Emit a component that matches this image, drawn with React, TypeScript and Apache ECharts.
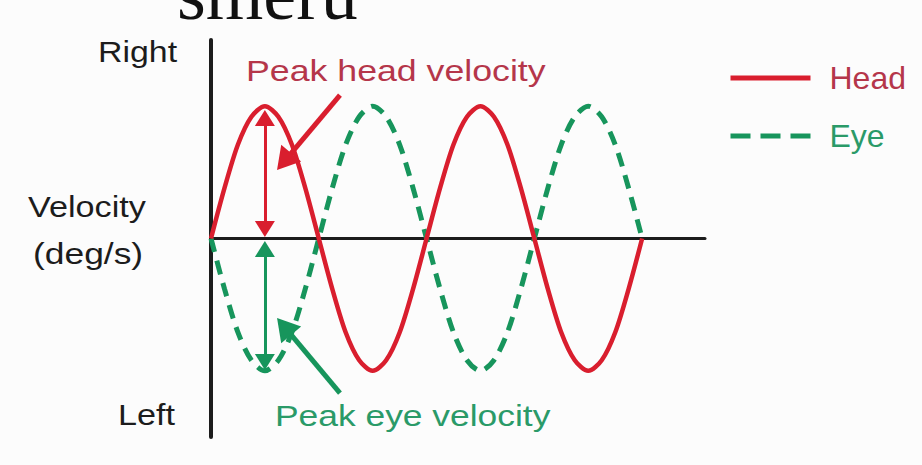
import React, { useEffect, useRef } from "react";
import * as echarts from "echarts";

// phase of the movement (degrees)
const phase = [0, 22.5, 45, 67.5, 90, 112.5, 135, 157.5, 180, 202.5, 225, 247.5, 270, 292.5, 315, 337.5, 360,
  382.5, 405, 427.5, 450, 472.5, 495, 517.5, 540, 562.5, 585, 607.5, 630, 652.5, 675, 697.5, 720];
// head velocity (normalised)
const headVelocity = [0, 0.38, 0.71, 0.92, 1, 0.92, 0.71, 0.38, 0, -0.38, -0.71, -0.92, -1, -0.92, -0.71, -0.38, 0,
  0.38, 0.71, 0.92, 1, 0.92, 0.71, 0.38, 0, -0.38, -0.71, -0.92, -1, -0.92, -0.71, -0.38, 0];
// eye velocity (normalised)
const eyeVelocity = [0, -0.38, -0.71, -0.92, -1, -0.92, -0.71, -0.38, 0, 0.38, 0.71, 0.92, 1, 0.92, 0.71, 0.38, 0,
  -0.38, -0.71, -0.92, -1, -0.92, -0.71, -0.38, 0, 0.38, 0.71, 0.92, 1, 0.92, 0.71, 0.38, 0];

const seriesNames = ["Head", "Eye"];
const titleText = "smeru";
const yLabelTop = "Right";
const yLabelMid = ["Velocity", "(deg/s)"];
const yLabelBottom = "Left";
const headNote = "Peak head velocity";
const eyeNote = "Peak eye velocity";

const RED = "#d91e2e";
const GREEN = "#17955c";
const RED_TEXT = "#b5364a";
const GREEN_TEXT = "#2a9a68";
const BLACK = "#1c1c1c";
const SANS = "'Liberation Sans', Arial, sans-serif";

function label(text: string, x: number, y: number, scaleX: number, color: string, size = 30) {
  return {
    type: "text",
    x,
    y,
    scaleX,
    silent: true,
    style: {
      text,
      fill: color,
      font: `${size}px ${SANS}`,
      align: "left",
      verticalAlign: "middle",
    },
  };
}

const hiddenSymbol = { color: "rgba(0,0,0,0)", borderWidth: 0, opacity: 0 };

export default function App() {
  const ref = useRef<HTMLDivElement>(null);

  useEffect(() => {
    if (!ref.current) return;
    const chart = echarts.init(ref.current, undefined, { renderer: "svg" });
    const headData = phase.map((p, i) => [p, headVelocity[i]]);
    const eyeData = phase.map((p, i) => [p, eyeVelocity[i]]);

    chart.setOption({
      animation: false,
      backgroundColor: "#fcfcfc",
      grid: { left: 211, top: 40, width: 494, height: 397, containLabel: false },
      xAxis: {
        type: "value",
        min: 0,
        max: 825,
        axisLine: { show: true, onZero: true, lineStyle: { color: BLACK, width: 3 } },
        axisTick: { show: false },
        axisLabel: { show: false },
        splitLine: { show: false },
      },
      yAxis: {
        type: "value",
        min: -1.5,
        max: 1.5,
        axisLine: { show: true, onZero: true, lineStyle: { color: BLACK, width: 4 } },
        axisTick: { show: false },
        axisLabel: { show: false },
        splitLine: { show: false },
      },
      legend: {
        orient: "vertical",
        left: 723,
        top: 54,
        itemWidth: 80,
        itemHeight: 30,
        itemGap: 20,
        selectedMode: false,
        itemStyle: hiddenSymbol,
        textStyle: { fontFamily: SANS, fontSize: 32, lineHeight: 30, padding: [0, 0, 8, 14] },
        data: [
          { name: seriesNames[0], textStyle: { color: RED_TEXT }, itemStyle: hiddenSymbol, lineStyle: { width: 5, color: RED } },
          { name: seriesNames[1], textStyle: { color: GREEN_TEXT }, itemStyle: hiddenSymbol, lineStyle: { width: 5, color: GREEN, type: [20, 10] } },
        ],
      },
      series: [
        {
          name: seriesNames[0],
          type: "line",
          data: headData,
          smooth: 0.3,
          symbol: "none",
          silent: true,
          lineStyle: { color: RED, width: 4.5 },
          itemStyle: { color: RED },
          z: 3,
          markLine: {
            silent: true,
            animation: false,
            label: { show: false },
            emphasis: { disabled: true },
            data: [
              [
                { coord: [90, 0.911], symbol: "triangle", symbolSize: [20, 16], lineStyle: { width: 3 } },
                { coord: [90, 0.072], symbol: "triangle", symbolSize: [20, 16] },
              ],
              [
                { coord: [215.4, 1.084], symbol: "none", lineStyle: { width: 5 } },
                { coord: [122.1, 0.581], symbol: "triangle", symbolSize: [26, 22] },
              ],
            ],
            lineStyle: { color: RED, width: 3.5, type: "solid" },
          },
        },
        {
          name: seriesNames[1],
          type: "line",
          data: eyeData,
          smooth: 0.3,
          symbol: "none",
          silent: true,
          lineStyle: { color: GREEN, width: 5, type: [14, 9] },
          itemStyle: { color: GREEN },
          z: 2,
          markLine: {
            silent: true,
            animation: false,
            label: { show: false },
            emphasis: { disabled: true },
            data: [
              [
                { coord: [90, -0.079], symbol: "triangle", symbolSize: [20, 16], lineStyle: { width: 3 } },
                { coord: [90, -0.933], symbol: "triangle", symbolSize: [20, 16] },
              ],
              [
                { coord: [215.4, -1.168], symbol: "none", lineStyle: { width: 5 } },
                { coord: [122.1, -0.664], symbol: "triangle", symbolSize: [26, 22] },
              ],
            ],
            lineStyle: { color: GREEN, width: 3.5, type: "solid" },
          },
        },
      ],
      graphic: [
        {
          type: "text",
          x: 177,
          y: -6,
          silent: true,
          style: {
            text: titleText,
            fill: "#111",
            font: "74px 'Liberation Serif', 'Times New Roman', serif",
            align: "left",
            verticalAlign: "middle",
          },
        },
        label(yLabelTop, 98, 52, 1.13, BLACK),
        label(yLabelMid[0], 28, 207, 1.14, BLACK),
        label(yLabelMid[1], 33, 253, 1.18, BLACK),
        label(yLabelBottom, 118, 415, 1.14, BLACK),
        label(headNote, 246, 71, 1.19, RED_TEXT),
        label(eyeNote, 275, 415, 1.18, GREEN_TEXT),
      ],
    });

    return () => chart.dispose();
  }, []);

  return (
    <div
      ref={ref}
      style={{ position: "fixed", left: 0, top: 0, width: 922, height: 465, background: "#fcfcfc" }}
    />
  );
}
